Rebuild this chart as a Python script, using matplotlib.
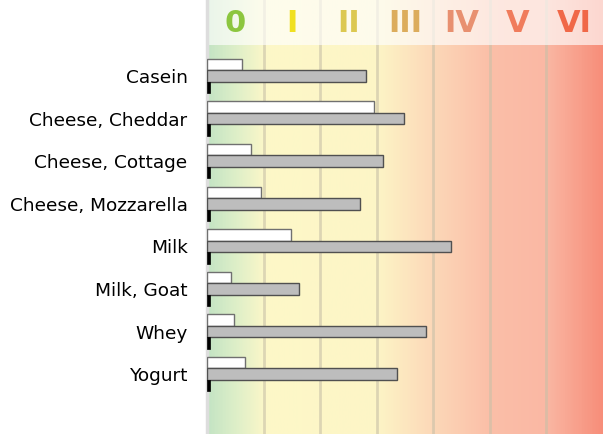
import numpy as np
import matplotlib.pyplot as plt
from matplotlib.colors import LinearSegmentedColormap

categories = ["Casein", "Cheese, Cheddar", "Cheese, Cottage", "Cheese, Mozzarella",
              "Milk", "Milk, Goat", "Whey", "Yogurt"]
white_vals = [0.61, 2.95, 0.77, 0.95, 1.49, 0.42, 0.47, 0.68]
gray_vals = [2.81, 3.49, 3.11, 2.70, 4.32, 1.63, 3.88, 3.35]
black_vals = [0.06, 0.06, 0.06, 0.06, 0.06, 0.06, 0.06, 0.06]

zones = ["0", "I", "II", "III", "IV", "V", "VI"]
zone_colors = ["#8cc63f", "#f0e020", "#dcc850", "#dcac5c", "#e89070", "#f07c5c", "#f06848"]

# background gradient, stops in zone units (0..7)
bg = LinearSegmentedColormap.from_list("bg", [
    (0 / 7, "#c4e4c4"), (0.5 / 7, "#deefc8"), (0.95 / 7, "#f8f6c8"), (1 / 7, "#fdf8c8"),
    (3 / 7, "#fdf5c6"), (4 / 7, "#fcd8b8"), (5 / 7, "#fbbfa8"),
    (6 / 7, "#fab8a4"), (7 / 7, "#f78e7a")])

fig = plt.figure(figsize=(6.03, 4.34), dpi=100)
ax = fig.add_axes([207 / 603, 0, 396 / 603, 1])

n = len(categories)
top = -76 / 42.6
bottom = top + 434 / 42.6
ax.imshow(np.linspace(0, 1, 400).reshape(1, -1), cmap=bg, aspect="auto",
          extent=[0, 7, bottom, top], zorder=0)
for i in range(1, 7):
    ax.axvline(i, color="#c8c0a8", alpha=0.6, lw=2, zorder=1)

y = np.arange(n)
h = 0.27
ax.barh(y - h, white_vals, height=h, color="white", edgecolor="#707070", lw=1, zorder=3)
ax.barh(y, gray_vals, height=h, color="#bdbdbd", edgecolor="#505050", lw=1, zorder=3)
ax.barh(y + h, black_vals, height=h, color="black", edgecolor="black", lw=0.5, zorder=3)

# header band
head = top + 45 / 42.6
ax.fill_between([0, 7], top, head, color="white", alpha=0.65, zorder=2, lw=0)
for i, z in enumerate(zones):
    ax.text(i + 0.5, (top + head) / 2 + 0.03, z, ha="center", va="center",
            fontsize=22, fontweight="bold", color=zone_colors[i], zorder=4)

ax.set_xlim(0, 7)
ax.set_ylim(bottom, top)
ax.set_yticks(y)
ax.set_yticklabels(categories, fontsize=13.3)
ax.tick_params(axis="y", length=0, pad=14)
ax.set_xticks([])
for s in ["top", "right", "bottom"]:
    ax.spines[s].set_visible(False)
ax.spines["left"].set_color("#dddddd")
ax.spines["left"].set_linewidth(2.5)

fig.savefig("out.png", dpi=100)
